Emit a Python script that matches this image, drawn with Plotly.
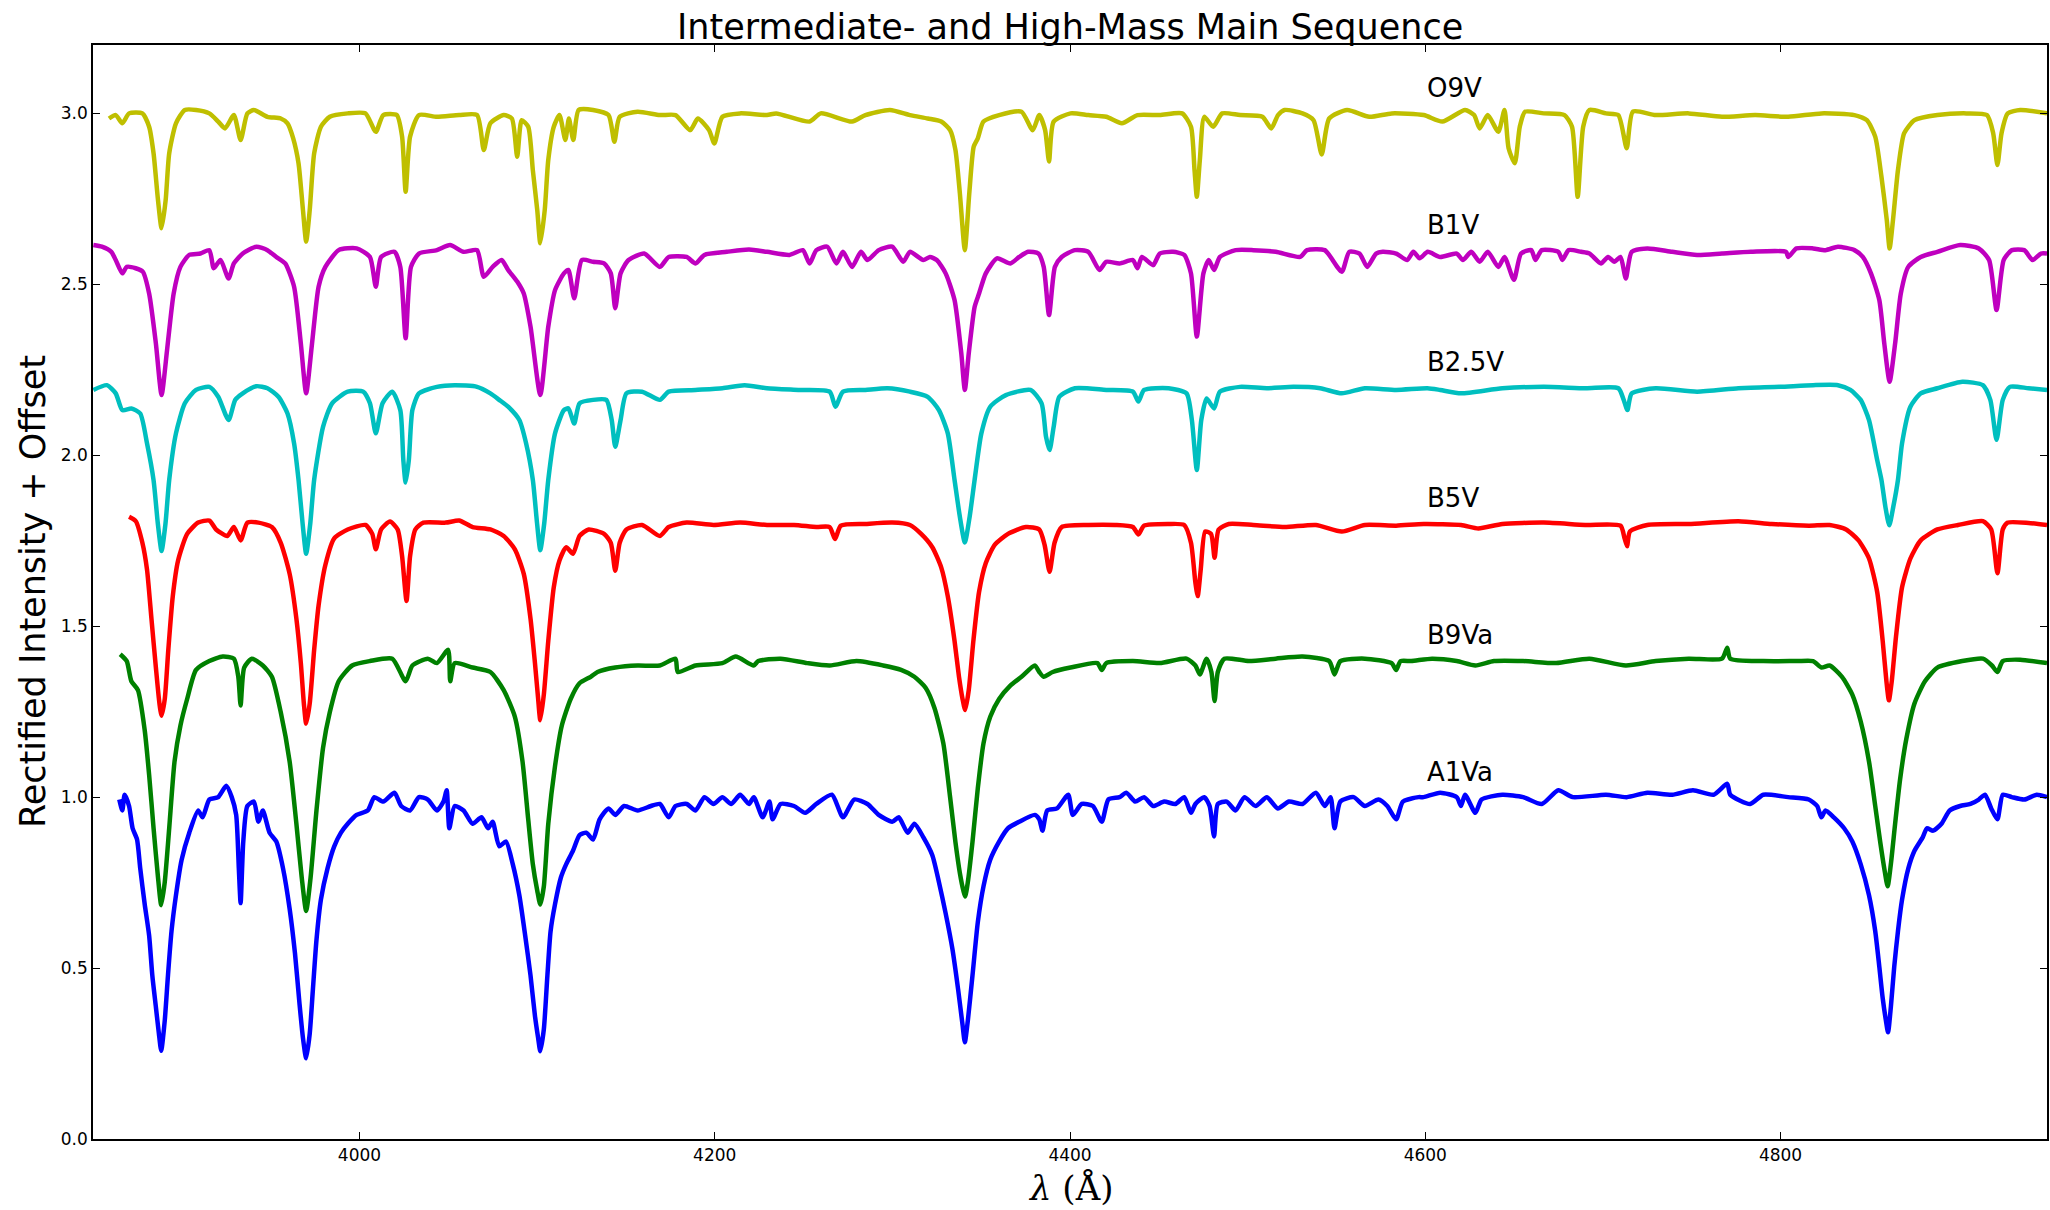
import plotly.graph_objects as go

# ---- data (wavelength in Angstrom, rectified intensity + offset) ----
o9v = [(3859,2.985),(3862.8,2.995),(3866.5,2.971),(3870.3,3.0),(3877.8,3.0),(3881.6,2.961),(3884.1,2.883),(3886.6,2.746),(3888.6,2.664),(3890.9,2.746),(3892.9,2.883),(3896.7,2.971),(3901.7,3.01),(3908,3.01),(3915.5,3.0),(3920.5,2.976),(3924.3,2.956),(3929.3,2.995),(3933.1,2.922),(3936.9,3.0),(3940.6,3.01),(3948.2,2.99),(3955.7,2.985),(3959.5,2.971),(3962.7,2.927),(3965.7,2.854),(3968.2,2.717),(3970,2.625),(3972,2.717),(3974.5,2.883),(3978.3,2.961),(3983.3,2.99),(3993.4,3.0),(4003.4,3.0),(4009.2,2.946),(4013.4,2.995),(4021,2.995),(4024,2.932),(4026,2.771),(4028.5,2.932),(4033.5,2.995),(4043.6,2.99),(4056.1,2.995),(4066.2,2.995),(4070,2.893),(4073.7,2.971),(4081.2,2.995),(4085.8,2.985),(4088.8,2.873),(4091.3,2.98),(4095,2.961),(4097.6,2.834),(4100.1,2.717),(4101.8,2.62),(4104.3,2.717),(4106.3,2.864),(4109.4,2.961),(4112.6,2.995),(4115.9,2.922),(4117.9,2.985),(4120.4,2.922),(4123.4,3.01),(4131.5,3.01),(4140.2,2.995),(4143.5,2.917),(4146.5,2.99),(4156.6,3.005),(4169.1,2.995),(4177.9,2.995),(4186.2,2.951),(4190.5,2.985),(4196.8,2.951),(4199.8,2.912),(4204.3,2.99),(4214.3,3.0),(4229.4,2.995),
       (4234.6,3.0),(4253.4,2.976),(4259.7,3.0),(4277.3,2.976),(4284.8,2.995),(4298.6,3.01),(4309.9,2.995),(4319.9,2.985),(4327.5,2.976),(4332.5,2.951),(4335.5,2.893),(4338,2.766),(4340.8,2.60),(4343.3,2.766),(4345.8,2.903),(4348.1,2.927),(4351.3,2.976),(4360.1,2.995),(4372.7,3.005),(4379,2.951),(4382.7,2.995),(4386,2.951),(4388.2,2.859),(4390.8,2.976),(4400.3,3.0),(4410.3,2.995),(4420.4,2.99),(4429.2,2.971),(4438,2.995),(4450.5,2.995),(4463.1,3.0),(4468.1,2.961),(4470.1,2.834),(4471.4,2.756),(4473.1,2.864),(4475.6,2.99),(4480.6,2.961),(4485.7,3.0),(4495.7,2.995),(4508.3,2.99),(4513.3,2.956),(4517.1,2.995),(4520.8,3.01),(4530.9,3.0),(4537.1,2.98),(4541.7,2.88),(4545.9,2.985),(4556,3.01),(4568.5,2.99),(4581.1,3.0),
       (4599.1,2.995),(4609.6,2.976),(4622.4,3.01),(4627.5,2.995),(4630.6,2.956),(4635.2,2.995),(4641.1,2.946),(4644.6,3.01),(4646.9,2.898),(4650.4,2.854),(4653.2,2.961),(4656.2,3.005),(4666.7,3.0),(4678.4,2.995),(4682.6,2.961),(4685.8,2.756),(4688.9,2.961),(4692.4,3.01),(4701.7,3.0),(4708.7,2.995),(4713.4,2.898),(4716.9,3.005),(4729.7,2.995),(4748.3,3.0),(4767,2.99),(4785.7,2.995),(4804.3,2.99),(4823,3.0),(4841.6,2.995),(4848.6,2.98),(4853.3,2.932),(4856.8,2.815),(4859.8,2.688),(4861.4,2.605),(4863.3,2.688),(4866.1,2.834),(4869.6,2.942),(4875.4,2.98),(4888.3,2.995),(4904.6,3.0),(4916.2,2.995),(4919.7,2.942),(4922.1,2.849),(4924.4,2.942),(4927.9,3.0),(4934.9,3.01),(4950,3.0)]

b1v = [(3850.2,2.615),(3855,2.61),(3860.3,2.595),(3862.8,2.571),(3866.5,2.532),(3869,2.551),(3874,2.547),(3878,2.537),(3881.6,2.473),(3885.4,2.327),(3888.6,2.176),(3891.7,2.308),(3895.4,2.473),(3899.2,2.551),(3904.2,2.586),(3910.5,2.59),(3915.5,2.60),(3918,2.547),(3921.8,2.571),(3926.3,2.517),(3929.3,2.561),(3934.3,2.59),(3941.9,2.61),(3948.2,2.60),(3953.2,2.58),(3958.2,2.561),(3963.2,2.493),(3967,2.327),(3970,2.181),(3973.3,2.327),(3977,2.493),(3980.8,2.551),(3988.3,2.60),(3998.4,2.605),(4005.9,2.58),(4009.2,2.493),(4012.2,2.58),(4019.7,2.595),(4023,2.551),(4026,2.342),(4029,2.551),(4033.5,2.59),(4043.6,2.60),(4051,2.615),(4058.6,2.595),(4066.2,2.60),(4070,2.522),(4075,2.551),(4080,2.571),(4083.7,2.542),(4088.8,2.508),(4092.5,2.473),(4096.3,2.376),(4101.8,2.176),(4106.3,2.376),(4110.1,2.483),(4115.1,2.532),(4117.6,2.542),(4120.9,2.459),(4125.2,2.571),(4131.5,2.566),(4137.7,2.561),(4141.5,2.532),(4144,2.43),(4147,2.532),(4151.5,2.571),(4160.3,2.59),(4169.1,2.551),(4174.1,2.58),(4184.2,2.58),(4189.2,2.561),(4194.2,2.586),(4206.8,2.595),(4219.3,2.602),
       (4229.5,2.595),(4242.1,2.586),(4249.6,2.60),(4253.4,2.561),(4257.2,2.60),(4263.4,2.61),(4268.5,2.561),(4272.2,2.595),(4277.3,2.551),(4282.3,2.595),(4286,2.571),(4292.3,2.60),(4299.9,2.61),(4306.1,2.566),(4309.9,2.595),(4317.4,2.571),(4321.2,2.58),(4325,2.571),(4330,2.532),(4335,2.454),(4338.8,2.298),(4340.8,2.191),(4343,2.298),(4346.3,2.434),(4348.8,2.473),(4352.6,2.532),(4358.9,2.576),(4366.4,2.561),(4371.4,2.58),(4376.4,2.595),(4382.2,2.59),(4385.2,2.551),(4388.2,2.41),(4391.5,2.551),(4395.3,2.58),(4402.8,2.60),(4410.3,2.595),(4416.6,2.542),(4420.4,2.566),(4427.9,2.561),(4435.4,2.571),(4438,2.547),(4440.5,2.58),(4446.8,2.556),(4450.5,2.59),(4458,2.595),(4464.3,2.586),(4468.1,2.532),(4471.4,2.347),(4475.1,2.532),(4478.1,2.571),(4481.1,2.542),(4484.4,2.58),(4493.2,2.60),(4503.2,2.60),(4515.8,2.595),(4529.6,2.58),(4533.4,2.60),(4543.4,2.60),(4553,2.537),(4557.2,2.595),(4563,2.59),(4567.3,2.551),(4572.3,2.59),(4576.1,2.595),(4583.6,2.59),
       (4589.8,2.571),(4593.3,2.595),(4596.8,2.576),(4601.4,2.595),(4608.4,2.58),(4617.7,2.59),(4621.2,2.571),(4625.9,2.595),(4630.6,2.566),(4635.2,2.595),(4641.1,2.551),(4644.6,2.58),(4649.9,2.513),(4653.9,2.59),(4659.7,2.60),(4662,2.571),(4665.6,2.60),(4674.9,2.595),(4677.2,2.571),(4680.7,2.60),(4687.7,2.595),(4692.4,2.59),(4698.9,2.561),(4702.9,2.58),(4706.4,2.566),(4709.9,2.58),(4712.9,2.517),(4716.2,2.595),(4725,2.605),(4739,2.595),(4753,2.586),(4767,2.59),(4783.3,2.595),(4803.1,2.595),(4804.3,2.58),(4809,2.605),(4818.3,2.605),(4825.3,2.60),(4832.3,2.61),(4841.6,2.60),(4846.3,2.58),(4850.9,2.532),(4855.6,2.454),(4858.4,2.327),(4861.4,2.215),(4864.5,2.327),(4867.7,2.473),(4871.9,2.551),(4878.9,2.58),(4888.3,2.595),(4901.1,2.615),(4911.6,2.605),(4917.4,2.571),(4921.6,2.425),(4925.6,2.571),(4930.2,2.60),(4937.2,2.60),(4941.9,2.571),(4946.6,2.59),(4950,2.59)]

b25v = [(3850.2,2.191),(3857.8,2.205),(3862.8,2.181),(3866.5,2.132),(3871.6,2.137),(3876.6,2.122),(3880.4,2.035),(3884.1,1.927),(3886.5,1.80),(3888.6,1.72),(3890.8,1.80),(3892.9,1.928),(3896.7,2.064),(3901.7,2.152),(3908,2.191),(3915.5,2.20),(3920.5,2.171),(3926.3,2.103),(3930.1,2.162),(3934.3,2.181),(3941.9,2.202),(3948.2,2.196),(3954.4,2.171),(3959.5,2.122),(3963.2,2.035),(3965.7,1.928),(3968,1.80),(3970,1.712),(3972.3,1.80),(3974.5,1.928),(3979.5,2.083),(3984.6,2.152),(3993.4,2.186),(4002.1,2.186),(4005.9,2.152),(4009.2,2.064),(4013,2.152),(4018.5,2.186),(4023,2.132),(4024.7,1.986),(4026,1.92),(4027.8,1.986),(4029.8,2.132),(4033.5,2.181),(4043.6,2.20),(4053.6,2.205),(4066.2,2.20),(4073.7,2.181),(4078.7,2.162),(4083.7,2.142),(4090,2.103),(4093.8,2.035),(4097.6,1.928),(4100,1.80),(4101.8,1.722),(4104,1.80),(4106.3,1.928),(4110.1,2.064),(4115.1,2.132),(4117.6,2.137),(4120.9,2.093),(4123.9,2.152),(4131.5,2.162),(4139,2.162),(4142,2.103),(4144,2.025),(4147,2.103),(4150.3,2.181),(4159.1,2.186),(4169.1,2.162),(4174.1,2.186),(4189.2,2.191),(4204.3,2.196),(4216.8,2.205),(4229.4,2.196),
        (4247.1,2.191),(4264.7,2.186),(4268,2.142),(4272.2,2.186),(4284.8,2.191),(4297.3,2.196),(4309.9,2.186),(4319.9,2.171),(4326.2,2.132),(4331.2,2.064),(4335,1.928),(4338,1.82),(4340.8,1.745),(4343.5,1.82),(4346.3,1.928),(4350.1,2.064),(4355.1,2.142),(4363.9,2.176),(4377.7,2.191),(4384,2.152),(4386.5,2.054),(4388.5,2.015),(4390.8,2.083),(4394,2.171),(4402.8,2.196),(4420.4,2.191),(4435.4,2.186),(4438.5,2.157),(4441.7,2.191),(4455.5,2.196),(4465.6,2.181),(4468.6,2.103),(4471.4,1.957),(4473.9,2.103),(4476.9,2.166),(4481.1,2.137),(4484.4,2.186),(4495.7,2.20),(4510.8,2.196),(4525.8,2.20),(4540.9,2.196),(4553,2.181),(4566,2.196),(4583.6,2.191),(4601.2,2.196),
        (4608.4,2.191),(4620.1,2.181),(4643.4,2.196),(4666.7,2.20),(4690,2.196),(4708.7,2.196),(4711.7,2.162),(4713.8,2.132),(4716.2,2.181),(4729.7,2.196),(4753,2.186),(4776.3,2.196),(4799.6,2.20),(4818.3,2.205),(4832.3,2.205),(4839.3,2.191),(4845.1,2.162),(4849.8,2.103),(4854.4,1.986),(4856.8,1.928),(4859,1.85),(4861.2,1.795),(4863.5,1.85),(4866.1,1.928),(4868.4,2.035),(4873.1,2.142),(4878.9,2.181),(4888.3,2.196),(4902.3,2.215),(4913.9,2.205),(4918.1,2.162),(4921.6,2.045),(4925.1,2.162),(4929.1,2.20),(4939.6,2.196),(4950,2.191)]

b5v = [(3870.3,1.82),(3874.1,1.807),(3877.8,1.744),(3880.4,1.666),(3882.9,1.522),(3885.4,1.379),(3887.4,1.274),(3888.6,1.238),(3890.4,1.287),(3892.4,1.431),(3894.9,1.587),(3897.9,1.692),(3903,1.77),(3909.2,1.803),(3915.5,1.809),(3919.3,1.783),(3925.6,1.764),(3929.3,1.79),(3933.1,1.751),(3936.9,1.803),(3943.1,1.803),(3950.7,1.79),(3955.7,1.744),(3960.7,1.653),(3964.5,1.522),(3967,1.392),(3968.7,1.274),(3970,1.215),(3972,1.274),(3974.5,1.431),(3977,1.561),(3980.8,1.679),(3985.8,1.757),(3993.4,1.783),(4003.4,1.796),(4007.2,1.77),(4009.2,1.725),(4012.2,1.783),(4017.2,1.806),(4021.5,1.783),(4024,1.705),(4026.5,1.574),(4028.5,1.705),(4031.5,1.783),(4036,1.803),(4048.6,1.803),(4056.1,1.809),(4063.7,1.79),(4073.7,1.783),(4081.2,1.764),(4087.5,1.725),(4092.5,1.653),(4096.3,1.522),(4098.8,1.392),(4100.6,1.287),(4101.8,1.225),(4103.8,1.3),(4106.3,1.457),(4109.4,1.614),(4112.6,1.692),(4116.4,1.731),(4120.2,1.712),(4123.9,1.764),(4129,1.783),(4137.7,1.77),(4141.5,1.744),(4144,1.662),(4146.5,1.744),(4150.3,1.783),(4159.1,1.796),(4169.1,1.764),(4174.1,1.79),(4184.2,1.803),(4199.3,1.796),(4214.3,1.803),(4229.4,1.796),
       (4244.6,1.796),(4257.2,1.79),(4264.7,1.79),(4267.7,1.755),(4271,1.794),(4284.8,1.799),(4299.9,1.803),(4309.9,1.796),(4316.2,1.77),(4322.5,1.731),(4327.5,1.672),(4331.2,1.587),(4335,1.457),(4337.5,1.352),(4339.5,1.287),(4341,1.255),(4343,1.313),(4345.6,1.457),(4348.8,1.6),(4352.6,1.685),(4357.6,1.738),(4365.1,1.77),(4375.2,1.79),(4382.7,1.783),(4385.7,1.738),(4388.5,1.659),(4391.3,1.744),(4395.3,1.79),(4410.3,1.796),(4425.4,1.796),(4435.4,1.79),(4438.5,1.768),(4441.7,1.794),(4455.5,1.799),(4464.3,1.796),(4468.1,1.744),(4470.6,1.627),(4471.9,1.588),(4473.6,1.666),(4476.1,1.777),(4479.4,1.77),(4481.4,1.7),(4483.7,1.783),(4489.4,1.799),(4503.2,1.796),(4520.8,1.79),(4538.4,1.796),(4553,1.777),(4566,1.796),(4583.6,1.794),
       (4599.1,1.799),(4620.1,1.796),(4629.9,1.786),(4643.4,1.799),(4666.7,1.803),(4690,1.796),(4709.9,1.794),(4712.2,1.757),(4713.6,1.734),(4715.2,1.777),(4725,1.796),(4748.3,1.799),(4776.3,1.807),(4795,1.799),(4816,1.794),(4827.6,1.796),(4836.9,1.783),(4843.9,1.751),(4849.8,1.698),(4854.4,1.6),(4857.5,1.457),(4859.6,1.339),(4861,1.283),(4862.6,1.339),(4865,1.47),(4868.4,1.614),(4873.1,1.698),(4878.9,1.751),(4888.3,1.783),(4899.9,1.796),(4913.9,1.807),(4918.6,1.783),(4922.1,1.655),(4925.1,1.783),(4927.9,1.803),(4939.6,1.802),(4950,1.796)]

b9va = [(3865.3,1.418),(3869,1.398),(3871.6,1.339),(3875.3,1.313),(3879.1,1.196),(3881.6,1.065),(3884.1,0.909),(3886.6,0.765),(3888.4,0.684),(3890.4,0.752),(3892.9,0.909),(3895.9,1.104),(3899.2,1.209),(3903,1.287),(3908,1.372),(3915.5,1.398),(3923,1.411),(3929.3,1.405),(3931.8,1.352),(3933.1,1.268),(3935.1,1.379),(3939.4,1.405),(3945.6,1.385),(3950.7,1.352),(3955.7,1.248),(3960.7,1.104),(3964.5,0.922),(3967.5,0.765),(3970,0.667),(3972.5,0.765),(3975.8,0.961),(3979.5,1.144),(3983.3,1.248),(3988.3,1.339),(3995.9,1.385),(4005.9,1.398),(4018.5,1.405),(4026,1.339),(4029.8,1.385),(4038.5,1.405),(4043.6,1.392),(4049.9,1.431),(4051.1,1.339),(4053.6,1.392),(4063.7,1.379),(4073.7,1.366),(4081.2,1.313),(4087.5,1.235),(4091.8,1.104),(4095,0.935),(4097.6,0.804),(4100.1,0.726),(4101.8,0.686),(4103.8,0.739),(4106.3,0.922),(4110.1,1.091),(4113.9,1.209),(4118.9,1.287),(4123.9,1.333),(4130.2,1.352),(4134,1.366),(4144,1.379),(4156.6,1.385),(4169.1,1.385),(4177.9,1.405),(4179.2,1.366),(4189.2,1.385),(4204.3,1.392),(4211.8,1.411),(4221.9,1.385),
        (4224.5,1.398),(4237.1,1.405),(4252.1,1.392),(4264.7,1.385),(4279.8,1.398),(4294.8,1.385),(4304.9,1.372),(4312.4,1.352),(4318.7,1.32),(4323.7,1.261),(4328.7,1.157),(4332.5,1.0),(4335.5,0.869),(4338,0.778),(4340,0.726),(4341,0.709),(4342.5,0.752),(4345.1,0.869),(4348.1,1.026),(4351.3,1.157),(4355.1,1.235),(4360.1,1.287),(4366.4,1.326),(4372.7,1.352),(4380.2,1.385),(4382.7,1.366),(4385.2,1.352),(4390.3,1.366),(4400.3,1.379),(4415.4,1.392),(4417.9,1.372),(4420.4,1.392),(4435.4,1.398),(4450.5,1.392),(4465.6,1.405),(4470.6,1.385),(4473.1,1.359),(4476.9,1.405),(4479.6,1.366),(4481.4,1.281),(4483.2,1.366),(4486.9,1.405),(4500.7,1.398),(4515.8,1.405),(4530.9,1.411),(4545.9,1.398),(4548.9,1.359),(4552.2,1.398),(4566,1.405),(4581.1,1.392),(4583.6,1.372),(4586.1,1.398),
        (4592.1,1.398),(4603.8,1.405),(4617.7,1.398),(4628.2,1.385),(4638.7,1.398),(4655.1,1.398),(4673.7,1.392),(4692.4,1.405),(4712.9,1.385),(4729.7,1.398),(4748.3,1.405),(4767,1.405),(4770,1.437),(4771.7,1.405),(4790.3,1.398),(4809,1.398),(4818.3,1.398),(4823,1.379),(4827.6,1.385),(4834.6,1.352),(4840.4,1.3),(4845.1,1.222),(4849.8,1.104),(4853.3,0.974),(4856.1,0.869),(4858.4,0.791),(4860.3,0.739),(4862.1,0.804),(4864.5,0.922),(4867.3,1.052),(4870.8,1.17),(4875.4,1.274),(4881.3,1.339),(4888.3,1.379),(4902.3,1.398),(4913.9,1.405),(4919,1.385),(4922.1,1.366),(4925.1,1.398),(4934.9,1.402),(4950,1.392)]

a1va = [(3864.8,0.993),(3866.5,0.961),(3867.8,1.007),(3870.3,0.974),(3872.3,0.909),(3874.8,0.876),(3876.6,0.791),(3879.1,0.687),(3881.6,0.595),(3883.4,0.478),(3885.4,0.386),(3887.1,0.308),(3888.4,0.258),(3890.4,0.347),(3892.2,0.478),(3894.2,0.608),(3896.7,0.713),(3899.9,0.817),(3904.2,0.896),(3909.2,0.961),(3911.7,0.941),(3915.5,0.993),(3920.5,1.0),(3925,1.033),(3928.1,1.0),(3930.6,0.948),(3932.1,0.791),(3933.1,0.69),(3934.6,0.87),(3936.9,0.974),(3940.6,0.987),(3943.1,0.928),(3945.6,0.961),(3949.4,0.896),(3953.2,0.87),(3957,0.791),(3960.7,0.673),(3963.7,0.543),(3966.2,0.399),(3968.2,0.295),(3970,0.236),(3972,0.308),(3973.8,0.438),(3975.8,0.582),(3978.3,0.7),(3982,0.791),(3985.8,0.856),(3989.6,0.896),(3993.4,0.922),(3998.4,0.948),(4004.7,0.961),(4008.4,1.0),(4013.4,0.987),(4019.7,1.013),(4023.5,0.974),(4028.5,0.961),(4033.5,1.0),(4038.5,0.993),(4043.6,0.961),(4047.3,0.987),(4049.1,1.02),(4050.6,0.909),(4053.6,0.974),(4058.6,0.961),(4063.7,0.922),(4068.7,0.941),(4072.4,0.909),(4075,0.928),(4078.7,0.856),(4082.5,0.87),(4086.3,0.804),(4090,0.713),(4093.3,0.595),(4096.3,0.478),(4098.8,0.36),(4100.6,0.295),(4101.8,0.257),(4103.8,0.321),(4105.8,0.478),(4107.6,0.608),(4110.1,0.687),(4113.4,0.765),(4116.4,0.804),(4120.2,0.843),(4123.9,0.889),(4127.7,0.896),(4131.5,0.876),(4135.2,0.935),(4140.2,0.967),(4144,0.948),(4149,0.974),(4156.6,0.961),(4164.1,0.974),(4169.1,0.98),(4174.1,0.941),(4177.9,0.974),(4184.2,0.98),(4189.2,0.961),(4194.2,1.0),(4199.3,0.98),(4204.3,1.0),(4209.3,0.98),(4214.3,1.007),(4219.3,0.98),
        (4222,1.0),(4227,0.941),(4230.8,0.987),(4232.6,0.935),(4237.1,0.98),(4244.6,0.974),(4250.9,0.954),(4257.2,0.98),(4266,1.007),(4272.2,0.941),(4278.5,0.993),(4286,0.98),(4292.3,0.948),(4299.9,0.928),(4303.6,0.941),(4308.6,0.896),(4312.4,0.922),(4317.4,0.883),(4322.5,0.83),(4326.2,0.752),(4330,0.66),(4333.8,0.556),(4337,0.438),(4339.5,0.334),(4340.8,0.283),(4342.5,0.347),(4345.1,0.478),(4348.1,0.634),(4351.3,0.739),(4355.1,0.817),(4360.1,0.87),(4365.1,0.909),(4371.4,0.928),(4380.2,0.948),(4382.7,0.935),(4384.5,0.902),(4387.2,0.961),(4392.7,0.967),(4399,1.007),(4401.6,0.948),(4406.6,0.98),(4412.9,0.974),(4417.9,0.928),(4421.6,0.993),(4427.9,1.0),(4431.7,1.013),(4436.7,0.987),(4441.7,1.0),(4446.8,0.974),(4453,0.987),(4459.3,0.98),(4464.3,1.0),(4468.1,0.954),(4470.6,0.98),(4475.6,1.0),(4478.6,0.974),(4481.1,0.885),(4483.2,0.98),(4488.2,0.987),(4493.2,0.961),(4498.2,1.0),(4504.5,0.974),(4510.8,1.0),(4517,0.967),(4523.3,0.987),(4530.9,0.98),(4538.4,1.013),(4543.4,0.974),(4546.7,1.0),(4548.9,0.909),(4552.2,0.987),(4559.7,1.0),(4566,0.974),(4573.6,0.993),(4578.6,0.974),(4583.6,0.935),(4587.4,0.987),(4596.2,1.0),
        (4599.1,1.0),(4608.4,1.013),(4617.7,1.0),(4620.1,0.974),(4622.4,1.007),(4628.2,0.954),(4631.7,0.993),(4643.4,1.007),(4655.1,1.0),(4665.6,0.98),(4674.9,1.02),(4683,1.0),(4701.7,1.007),(4713.4,1.0),(4725,1.013),(4739,1.007),(4750.7,1.02),(4762.3,1.007),(4770,1.039),(4771.7,1.007),(4782.9,0.98),(4790.3,1.007),(4804.3,1.0),(4815.9,0.993),(4820.6,0.974),(4823,0.941),(4825.3,0.961),(4830,0.941),(4835.8,0.909),(4840.4,0.87),(4845.1,0.804),(4849.8,0.713),(4853.3,0.608),(4855.6,0.504),(4857.5,0.412),(4859.3,0.347),(4860.5,0.312),(4862.1,0.386),(4864,0.504),(4866.1,0.608),(4868.4,0.7),(4871.9,0.791),(4875.4,0.843),(4880.1,0.883),(4882.4,0.909),(4885.9,0.902),(4890.6,0.922),(4895.2,0.961),(4901.1,0.974),(4906.9,0.98),(4911.6,0.993),(4915.1,1.007),(4918.6,0.967),(4922.1,0.935),(4925.1,1.007),(4930.2,1.0),(4937.2,0.993),(4944.2,1.007),(4950,1.0)]

series_names = ["O9V", "B1V", "B2.5V", "B5V", "B9Va", "A1Va"]
series_data = [o9v, b1v, b25v, b5v, b9va, a1va]
series_colors = ["#bfbf00", "#bf00bf", "#00bfbf", "#ff0000", "#008000", "#0000ff"]
label_x = 4600
label_y = [3.0, 2.6, 2.2, 1.8, 1.4, 1.0]   # offsets of each spectrum

x_ticks = [4000, 4200, 4400, 4600, 4800]
y_ticks = [0.0, 0.5, 1.0, 1.5, 2.0, 2.5, 3.0]

fig = go.Figure()
for name, pts, col in zip(series_names, series_data, series_colors):
    wl = [p[0] for p in pts]
    fl = [p[1] for p in pts]
    fig.add_trace(go.Scatter(x=wl, y=fl, mode="lines", name=name,
                             line=dict(color=col, width=4.5, shape="spline", smoothing=0.6),
                             showlegend=False))

for name, off in zip(series_names, label_y):
    fig.add_annotation(x=label_x, y=off + 0.024, xref="x", yref="y", text=name,
                       showarrow=False, xanchor="left", yanchor="bottom",
                       font=dict(family="DejaVu Sans", size=26, color="black"))

# title
fig.add_annotation(x=0.5, y=1, xref="paper", yref="paper", yanchor="bottom", yshift=-4,
                   text="Intermediate- and High-Mass Main Sequence", showarrow=False,
                   font=dict(family="DejaVu Sans", size=35, color="black"))
# y label
fig.add_annotation(x=0, y=0.5, xref="paper", yref="paper", xanchor="center", yanchor="middle",
                   xshift=-60, textangle=-90, text="Rectified Intensity + Offset", showarrow=False,
                   font=dict(family="DejaVu Sans", size=35, color="black"))
# x label
fig.add_annotation(x=0.5, y=0, xref="paper", yref="paper", xanchor="center", yanchor="middle",
                   yshift=-49, text="<i>λ</i> (Å)", showarrow=False,
                   font=dict(family="DejaVu Serif", size=34, color="black"))

axis_common = dict(showline=True, linecolor="black", linewidth=1.5, mirror="ticks",
                   ticks="inside", ticklen=7, tickwidth=1, tickcolor="black",
                   showgrid=False, zeroline=False,
                   tickfont=dict(family="DejaVu Sans", size=17, color="black"))
fig.update_xaxes(range=[3850, 4950], tickvals=x_ticks, ticktext=[str(v) for v in x_ticks], **axis_common)
fig.update_yaxes(range=[0, 3.2], tickvals=y_ticks, ticktext=[f"{v:.1f}" for v in y_ticks], **axis_common)

fig.update_layout(width=2050, height=1210, autosize=False,
                  margin=dict(l=93, r=1, t=45, b=71, pad=0),
                  paper_bgcolor="white", plot_bgcolor="white")

fig.write_html("out.html")
